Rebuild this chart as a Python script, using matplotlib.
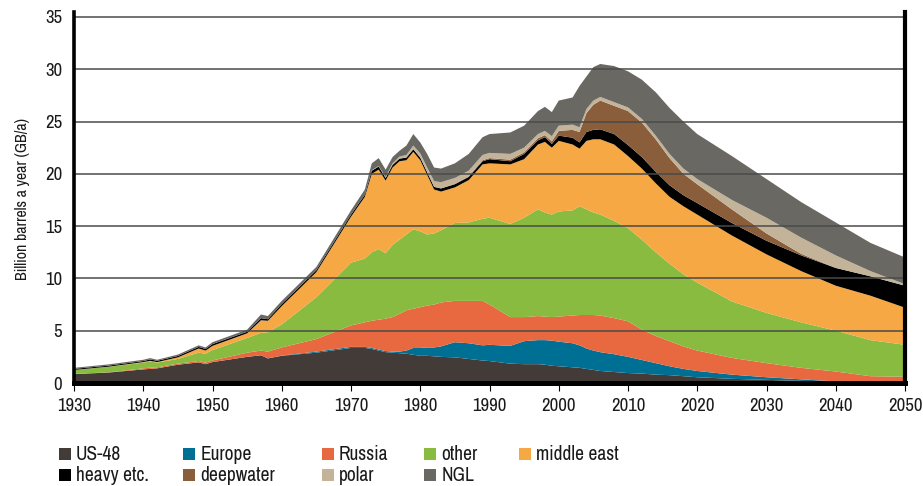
import numpy as np
import matplotlib
matplotlib.use("Agg")
import matplotlib.pyplot as plt
from matplotlib.patches import Rectangle

# ---------------- data (cumulative tops of each stacked band, GB/a) ----------------
years = [1930, 1935, 1940, 1941, 1942, 1945, 1948, 1949, 1950, 1955, 1957, 1958, 1960,
         1965, 1970, 1972, 1973, 1974, 1975, 1976, 1977, 1978, 1979, 1980, 1981, 1982,
         1983, 1985, 1987, 1989, 1990, 1993, 1995, 1997, 1998, 1999, 2000, 2002, 2003,
         2004, 2005, 2006, 2008, 2010, 2012, 2014, 2016, 2018, 2020, 2025, 2030, 2035,
         2040, 2045, 2050]

us48_top = [0.85, 1.00, 1.30, 1.35, 1.40, 1.75, 1.97, 1.80, 2.00, 2.50, 2.65, 2.35, 2.60,
            2.90, 3.35, 3.35, 3.25, 3.10, 2.95, 2.90, 2.85, 2.80, 2.70, 2.60, 2.60, 2.55,
            2.50, 2.45, 2.30, 2.15, 2.10, 1.85, 1.80, 1.80, 1.75, 1.65, 1.60, 1.50, 1.45,
            1.35, 1.25, 1.15, 1.05, 0.95, 0.90, 0.80, 0.75, 0.65, 0.55, 0.40, 0.30, 0.20,
            0.10, 0.05, 0.00]
europe_top = [0.85, 1.00, 1.30, 1.35, 1.40, 1.75, 1.97, 1.80, 2.00, 2.50, 2.65, 2.35, 2.62,
              3.00, 3.45, 3.45, 3.35, 3.20, 3.05, 3.00, 3.00, 3.10, 3.35, 3.35, 3.40, 3.40,
              3.50, 3.90, 3.80, 3.60, 3.65, 3.55, 4.00, 4.10, 4.10, 4.05, 3.95, 3.80, 3.60,
              3.30, 3.10, 2.95, 2.75, 2.50, 2.20, 1.90, 1.60, 1.35, 1.15, 0.80, 0.55, 0.35,
              0.15, 0.05, 0.00]
russia_top = [0.87, 1.02, 1.40, 1.47, 1.50, 1.85, 2.10, 1.95, 2.15, 2.90, 3.10, 3.00, 3.40,
              4.20, 5.50, 5.80, 5.95, 6.05, 6.15, 6.30, 6.60, 6.95, 7.10, 7.25, 7.40, 7.50,
              7.70, 7.85, 7.85, 7.85, 7.50, 6.30, 6.30, 6.40, 6.35, 6.30, 6.35, 6.45, 6.50,
              6.50, 6.50, 6.45, 6.20, 5.90, 5.10, 4.50, 4.00, 3.50, 3.10, 2.40, 1.90, 1.45,
              1.10, 0.65, 0.60]
other_top = [1.25, 1.55, 1.95, 2.05, 1.95, 2.30, 2.90, 2.80, 3.15, 4.30, 4.80, 4.85, 5.60,
             8.20, 11.50, 11.90, 12.50, 12.80, 12.40, 13.20, 13.70, 14.20, 14.70, 14.50, 14.20, 14.30,
             14.60, 15.30, 15.35, 15.70, 15.80, 15.20, 15.80, 16.60, 16.30, 16.10, 16.40, 16.50, 16.90,
             16.60, 16.30, 16.10, 15.50, 14.80, 13.70, 12.50, 11.40, 10.40, 9.60, 7.80, 6.70, 5.80,
             5.00, 4.10, 3.65]
mideast_top = [1.25, 1.56, 2.00, 2.12, 2.00, 2.45, 3.30, 3.10, 3.55, 4.75, 6.00, 5.95, 7.35,
               10.60, 15.90, 17.80, 20.00, 20.40, 19.35, 20.60, 21.20, 21.30, 22.10, 21.30, 19.90, 18.50,
               18.30, 18.70, 19.40, 20.90, 21.00, 20.90, 21.40, 22.80, 23.05, 22.50, 23.15, 22.80, 22.40,
               23.15, 23.30, 23.30, 22.80, 21.70, 20.50, 19.10, 17.80, 16.90, 16.10, 14.10, 12.30, 10.70,
               9.30, 8.35, 7.20]
heavy_top = [1.35, 1.66, 2.10, 2.25, 2.12, 2.58, 3.45, 3.25, 3.72, 4.90, 6.20, 6.10, 7.55,
             10.78, 16.10, 18.00, 20.30, 20.70, 19.60, 20.85, 21.45, 21.55, 22.35, 21.55, 20.15, 18.75,
             18.60, 19.00, 19.70, 21.20, 21.40, 21.20, 21.90, 23.20, 23.50, 22.85, 23.65, 23.45, 23.00,
             24.00, 24.20, 24.25, 23.80, 22.75, 21.60, 20.20, 18.90, 17.95, 17.20, 15.30, 13.60, 12.20,
             11.00, 10.20, 9.30]
deepwater_top = [1.35, 1.66, 2.10, 2.25, 2.12, 2.58, 3.45, 3.25, 3.72, 4.90, 6.20, 6.10, 7.55,
                 10.78, 16.10, 18.00, 20.30, 20.70, 19.60, 20.85, 21.45, 21.55, 22.35, 21.55, 20.15, 18.75,
                 18.60, 19.05, 19.75, 21.30, 21.50, 21.35, 22.05, 23.40, 23.70, 23.10, 24.10, 24.20, 24.00,
                 25.80, 26.60, 27.00, 26.50, 26.00, 24.90, 23.30, 21.50, 20.00, 19.00, 16.60, 14.30, 12.35,
                 11.00, 10.20, 9.30]
polar_top = [1.35, 1.66, 2.10, 2.25, 2.12, 2.58, 3.45, 3.25, 3.72, 4.90, 6.20, 6.10, 7.55,
             10.78, 16.10, 18.00, 20.35, 20.75, 19.70, 21.00, 21.65, 21.80, 22.70, 21.95, 20.60, 19.30,
             19.20, 19.60, 20.30, 21.80, 22.00, 21.90, 22.50, 23.80, 24.10, 23.60, 24.60, 24.70, 24.45,
             26.20, 27.00, 27.35, 26.85, 26.35, 25.25, 23.65, 21.90, 20.50, 19.50, 17.50, 15.80, 13.90,
             12.20, 10.70, 9.45]
ngl_top = [1.45, 1.78, 2.22, 2.38, 2.22, 2.72, 3.60, 3.40, 3.90, 5.10, 6.55, 6.40, 7.85,
           11.10, 16.50, 18.50, 21.00, 21.50, 20.40, 21.60, 22.20, 22.70, 23.80, 23.00, 21.90, 20.60,
           20.50, 21.00, 21.90, 23.50, 23.80, 23.95, 24.60, 26.00, 26.40, 25.90, 27.00, 27.30, 28.40,
           29.30, 30.20, 30.50, 30.30, 29.80, 29.00, 27.80, 26.30, 25.00, 23.80, 21.70, 19.50, 17.30,
           15.35, 13.40, 12.00]

series_names = ["US-48", "Europe", "Russia", "other", "middle east",
                "heavy etc.", "deepwater", "polar", "NGL"]
colors = ["#423b37", "#006f94", "#e8683f", "#88bb3f", "#f5a843",
          "#000000", "#8a5d3b", "#c3b499", "#6a6863"]

x_ticks = [1930, 1940, 1950, 1960, 1970, 1980, 1990, 2000, 2010, 2020, 2030, 2040, 2050]
y_ticks = [0, 5, 10, 15, 20, 25, 30, 35]

# ---------------- figure ----------------
FONT = ["Archivo Narrow", "DejaVu Sans"]
plt.rcParams["font.family"] = FONT

W, H = 923, 486
fig = plt.figure(figsize=(W / 100, H / 100), dpi=100)
ax = fig.add_axes([74 / W, (H - 383) / H, (905 - 74) / W, 370.8 / H])

tops = np.array([us48_top, europe_top, russia_top, other_top, mideast_top,
                 heavy_top, deepwater_top, polar_top, ngl_top])
layers = np.diff(np.vstack([np.zeros(len(years)), tops]), axis=0)
ax.stackplot(years, layers, colors=colors, linewidth=0, zorder=1)

ax.set_xlim(1930, 2050)
ax.set_ylim(0, 35.45)
ax.set_xticks(x_ticks)
ax.set_yticks(y_ticks)

ax.set_axisbelow(False)
ax.yaxis.grid(True, color="#4a4a4a", linewidth=1.1, zorder=3)
ax.xaxis.grid(False)

ax.spines["top"].set_visible(False)
ax.spines["left"].set_linewidth(2.6)
ax.spines["bottom"].set_linewidth(3.6)
ax.spines["right"].set_linewidth(3.0)
for s in ["left", "bottom", "right"]:
    ax.spines[s].set_color("black")
    ax.spines[s].set_zorder(5)

ax.tick_params(axis="y", length=0, pad=8.5, labelsize=13.5, labelcolor="#1a1a1a")
ax.tick_params(axis="x", length=5.5, width=0.8, direction="out", pad=5, labelsize=13.5,
               labelcolor="#1a1a1a")

ax.set_ylabel("Billion barrels a year (GB/a)", fontsize=11.5, color="#1a1a1a")
ax.yaxis.set_label_coords(30 / W, (H - 199) / H, transform=fig.transFigure)

# ---------------- legend (manual) ----------------
rows = [(460.0, [(59, 0), (183.3, 1), (321.7, 2), (424.3, 3), (519, 4)]),
        (481.3, [(59, 5), (183.3, 6), (321.7, 7), (424.3, 8)])]
for base_y, items in rows:
    for px, idx in items:
        fig.add_artist(Rectangle((px / W, (H - base_y) / H), 12 / W, 12 / H,
                                 transform=fig.transFigure, facecolor=colors[idx],
                                 edgecolor="none"))
        fig.text((px + 17) / W, (H - base_y) / H, series_names[idx],
                 fontsize=14, va="baseline", ha="left", color="#1a1a1a")

fig.savefig("out.png", dpi=100)
